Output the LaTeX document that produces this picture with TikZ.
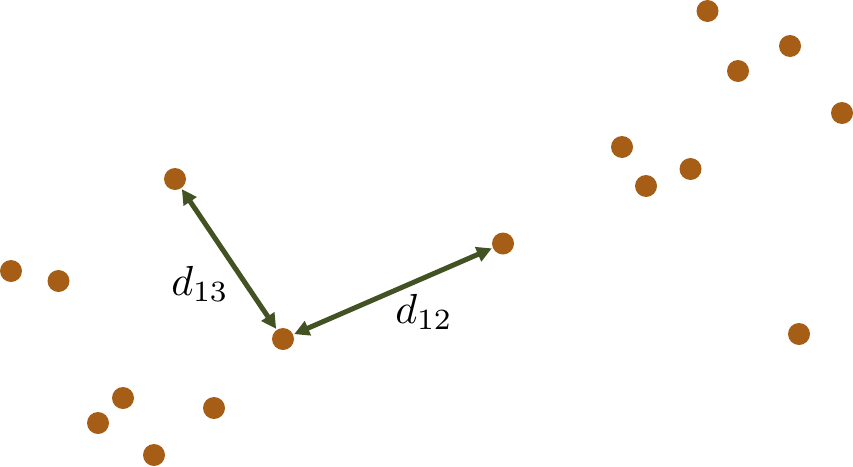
\documentclass[tikz,border=0pt]{standalone}
\usepackage{graphicx}
\usetikzlibrary{arrows.meta}
\definecolor{dotbrown}{HTML}{A65E17}
\definecolor{arrowgreen}{HTML}{435223}
\tikzset{
  pt/.style={circle,fill=dotbrown,inner sep=0pt,minimum size=22pt},
  dist/.style={draw=arrowgreen,line width=5pt,{Triangle[length=15pt,width=15pt]}-{Triangle[length=15pt,width=15pt]},shorten <=1pt,shorten >=1pt},
  lab/.style={inner sep=0pt}
}
\begin{document}
\begin{tikzpicture}[x=1pt,y=-1pt]
\useasboundingbox (0,0) rectangle (853,466);
\node[pt] (a1) at (707.5,11) {};
\node[pt] (a2) at (790,46) {};
\node[pt] (a3) at (738,71) {};
\node[pt] (a4) at (842,113) {};
\node[pt] (a5) at (622,147) {};
\node[pt] (a6) at (690.5,169) {};
\node[pt] (a7) at (646,186) {};
\node[pt] (p3) at (175,179) {};
\node[pt] (p2) at (503,243.5) {};
\node[pt] (p1) at (283,339) {};
\node[pt] (b1) at (11,271) {};
\node[pt] (b2) at (58.5,281) {};
\node[pt] (c1) at (799,334) {};
\node[pt] (b3) at (123,398) {};
\node[pt] (b4) at (98,423) {};
\node[pt] (b5) at (214,408) {};
\node[pt] (b6) at (154,455) {};
\draw[dist] (p3) -- (p1);
\draw[dist] (p1) -- (p2);
\node[lab] (l13) at (200,284) {\scalebox{4.2}{$d_{13}$}};
\node[lab] (l12) at (424,312) {\scalebox{4.2}{$d_{12}$}};
\end{tikzpicture}
\end{document}
